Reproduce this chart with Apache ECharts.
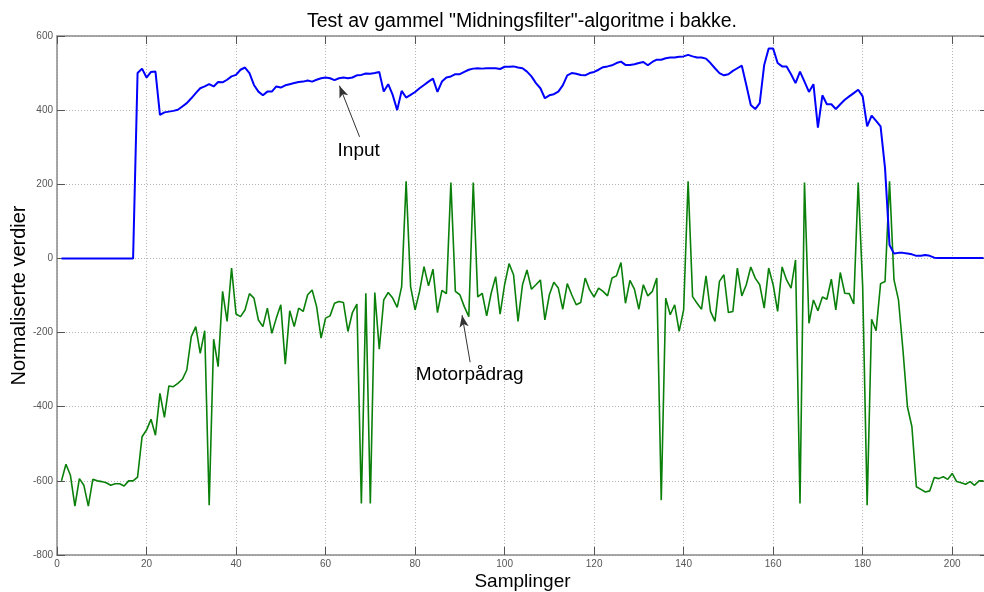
<!DOCTYPE html>
<html>
<head>
<meta charset="utf-8">
<script src="https://cdn.jsdelivr.net/npm/echarts@6/dist/echarts.min.js"></script>
<style>
html,body{margin:0;padding:0;background:#fff;}
#chart{width:984px;height:592px;}
</style>
</head>
<body>
<div id="chart"></div>
<script>
// Sample index runs 1..207
const inputValues = [
  0,0,0,0,0,0,0,0,0,0,0,0,0,0,0,0,0,
  500,512,488,503,504,387,394,396,398,401,410,419,432,446,459,464,470,464,476,475,482,491,495,509,515,500,468,450,440,450,450,464,461,467,470,473,476,477,480,477,482,486,488,486,481,486,488,486,488,494,495,499,498,500,503,
  450,470,441,400,452,434,441,449,459,468,477,485,449,477,488,491,497,497,503,509,512,513,512,513,513,513,511,517,517,518,515,513,504,491,473,459,432,440,443,450,467,494,500,498,495,494,500,503,509,516,518,521,527,531,522,522,524,527,530,521,530,536,536,540,542,542,544,545,549,545,542,542,539,527,513,500,494,497,506,513,520,468,414,403,419,522,566,566,527,518,518,497,473,504,477,449,470,353,440,416,416,403,416,428,437,446,455,437,356,385,371,356,243,36,13,15,15,13,11,7,7,9,7,2,
  1,1,1,1,1,1,1,1,1,1,1
];
const motorValues = [
  -600,-555,-585,-668,-594,-612,-668,-596,-600,-602,-605,-612,-608,-608,-614,-600,-600,-590,-481,-463,
  -434,-477,-364,-429,-344,-346,-337,-326,-301,-211,-184,-256,-195,-666,-218,-292,-89,-170,-26,-150,
  -157,-139,-95,-107,-166,-184,-134,-202,-161,-125,-285,-141,-184,-134,-143,-98,-85,-130,-215,-161,
  -155,-121,-116,-119,-197,-146,-123,-661,-94,-661,-92,-245,-112,-92,-107,-132,-76,208,-76,-139,
  -89,-22,-74,-29,-146,-86,-95,205,-89,-98,-130,-157,205,-104,-94,-155,-94,-49,-150,-71,
  -14,-44,-170,-71,-31,-83,-71,-58,-166,-98,-64,-80,-137,-68,-98,-125,-119,-53,-85,-104,
  -80,-89,-101,-53,-47,-11,-121,-59,-83,-137,-71,-101,-89,-53,-652,-107,-152,-125,-197,-139,
  208,-103,-121,-137,-47,-143,-170,-62,-44,-146,-143,-26,-101,-71,-23,-53,-71,-134,-26,-71,
  -143,-23,-58,-80,-4,-661,205,-175,-112,-141,-104,-110,-56,-139,-38,-94,-95,-123,205,-76,
  -666,-164,-195,-68,-62,208,-58,-112,-247,-400,-454,-616,-623,-630,-627,-591,-594,-589,-596,-580,
  -602,-605,-609,-602,-612,-600,-600
];
const yTicks = [-800,-600,-400,-200,0,200,400,600];
const xTicks = [0,20,40,60,80,100,120,140,160,180,200];
const titleText = 'Test av gammel "Midningsfilter"-algoritme i bakke.';
const xName = 'Samplinger';
const yName = 'Normaliserte verdier';
// annotations: label, label position, arrow tail, arrow head (data units)
const inputNote = {text:'Input', at:[67.4,290], tail:[67.6,328], head:[63.1,466]};
const motorNote = {text:'Motorpådrag', at:[92.2,-313], tail:[92.3,-280], head:[90.5,-153]};

const toPairs = arr => arr.map((v,i)=>[i+1,v]);
const font = '"Liberation Sans", Arial, sans-serif';

function note(n){
  return {
    markLine:{
      silent:true, animation:false,
      symbol:['none','arrow'], symbolSize:[7,12],
      lineStyle:{color:'#333', width:1, type:'solid'},
      label:{show:false},
      data:[[{coord:n.tail},{coord:n.head}]]
    },
    markPoint:{
      silent:true, animation:false,
      data:[{coord:n.at, symbol:'rect', symbolSize:1, itemStyle:{color:'rgba(0,0,0,0)'},
        label:{show:true, position:'inside', formatter:n.text, color:'#000', fontSize:19, fontFamily:font}}]
    }
  };
}

const chart = echarts.init(document.getElementById('chart'));
const axisCommon = {min:0, max:208, interval:20, type:'value'};
const lineCol = '#8a8a8a';
chart.setOption({
  animation:false,
  backgroundColor:'#fff',
  title:{text:titleText, left:517, top:7, textAlign:'center',
    textStyle:{fontSize:19.5, fontWeight:'normal', color:'#000', fontFamily:font}},
  grid:{left:57, right:-4, top:36, bottom:37, containLabel:false, outerBoundsMode:'none'},
  xAxis:[
    Object.assign({}, axisCommon, {
      position:'bottom',
      name:xName, nameLocation:'middle', nameGap:17, nameMoveOverlap:false,
      nameTextStyle:{fontSize:19, color:'#000', fontFamily:font},
      axisLine:{show:true, onZero:false, lineStyle:{color:lineCol, width:1.5}},
      axisTick:{show:true, inside:true, length:8, lineStyle:{color:'#555'}},
      axisLabel:{fontSize:10, color:'#555', margin:4, fontFamily:font,
        showMaxLabel:false, formatter:v=> xTicks.includes(v) ? String(v) : ''},
      splitLine:{show:true, lineStyle:{color:'#b4b4b4', type:[1,2], width:1}}
    }),
    Object.assign({}, axisCommon, {
      position:'top',
      axisLine:{show:true, onZero:false, lineStyle:{color:lineCol, width:1.5}},
      axisTick:{show:true, inside:true, length:8, lineStyle:{color:'#555'}},
      axisLabel:{show:false},
      splitLine:{show:false}
    })
  ],
  yAxis:[
    {
      type:'value', min:yTicks[0], max:yTicks[yTicks.length-1], interval:200,
      position:'left',
      name:yName, nameLocation:'middle', nameGap:28, nameMoveOverlap:false,
      nameTextStyle:{fontSize:20, color:'#000', fontFamily:font},
      axisLine:{show:true, onZero:false, lineStyle:{color:lineCol, width:1.5}},
      axisTick:{show:true, inside:true, length:8, lineStyle:{color:'#555'}},
      axisLabel:{fontSize:10, color:'#555', margin:4, fontFamily:font},
      splitLine:{show:true, lineStyle:{color:'#b4b4b4', type:[1,2], width:1}}
    },
    {
      type:'value', min:yTicks[0], max:yTicks[yTicks.length-1], interval:200,
      position:'right',
      axisLine:{show:true, onZero:false, lineStyle:{color:lineCol, width:1.5}},
      axisTick:{show:true, inside:true, length:8, lineStyle:{color:'#555'}},
      axisLabel:{show:false},
      splitLine:{show:false}
    }
  ],
  series:[
    Object.assign({
      name:'Motorpådrag', type:'line', data:toPairs(motorValues),
      showSymbol:false, symbol:'none', smooth:false,
      lineStyle:{color:'#0a800a', width:1.6},
      z:2
    }, note(motorNote)),
    Object.assign({
      name:'Input', type:'line', data:toPairs(inputValues),
      showSymbol:false, symbol:'none', smooth:false,
      lineStyle:{color:'#0000ff', width:2},
      z:3
    }, note(inputNote))
  ]
});
</script>
</body>
</html>
